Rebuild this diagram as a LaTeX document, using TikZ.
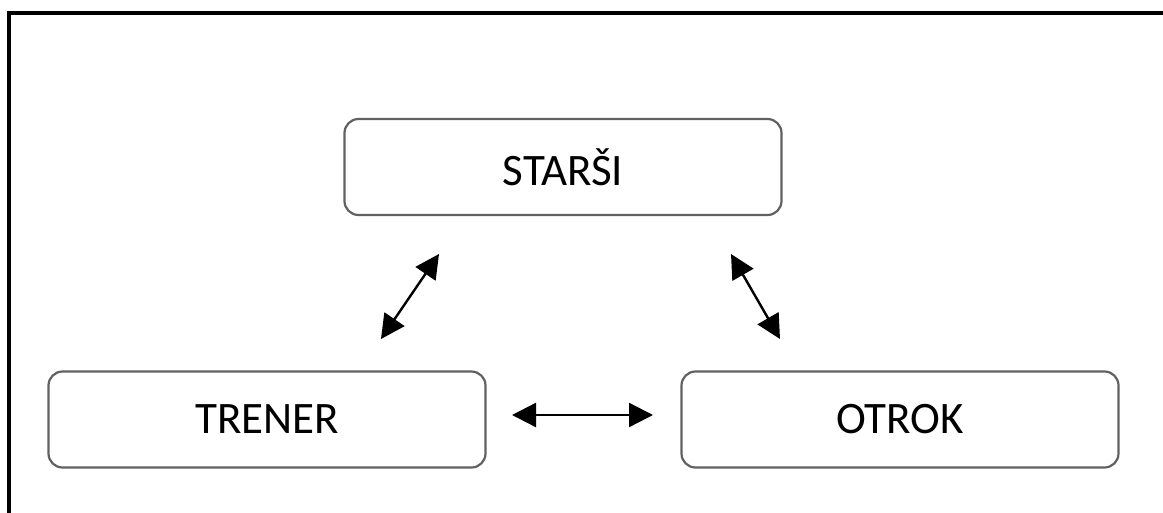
\documentclass[tikz,border=0pt]{standalone}
\usepackage{fontspec}
\setmainfont{Carlito}
\usetikzlibrary{arrows.meta}
\begin{document}
\begin{tikzpicture}[x=1pt,y=-1pt,
  rbox/.style={draw=black!62,line width=2.2pt,rounded corners=14pt,fill=white,
    minimum width=437pt,minimum height=96pt,inner sep=0pt,font=\fontsize{45}{54}\selectfont},
  link/.style={line width=2.4pt,{Triangle[length=24pt,width=24pt]}-{Triangle[length=24pt,width=24pt]}}]
\useasboundingbox (0,0) rectangle (1163,512);
\draw[line width=4pt] (9,515) -- (9,13) -- (1166,13);
\node[rbox] (starsi) at (563,167) {STARŠI};
\node[rbox] (trener) at (267,419.5) {TRENER};
\node[rbox] (otrok) at (900,419.5) {OTROK};
\coordinate (a1) at (381,339);
\coordinate (a2) at (439,254);
\coordinate (b1) at (731,254);
\coordinate (b2) at (780,339);
\coordinate (c1) at (512,415);
\coordinate (c2) at (653,415);
\draw[link] (a1) -- (a2);
\draw[link] (b1) -- (b2);
\draw[link] (c1) -- (c2);
\end{tikzpicture}
\end{document}
